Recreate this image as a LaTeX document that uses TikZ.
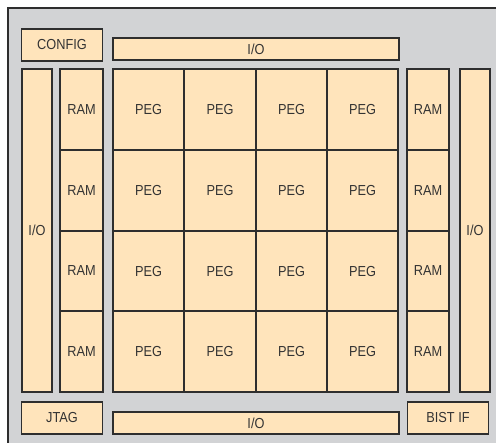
\documentclass[tikz,border=0pt]{standalone}
\usepackage{fontspec}
\setmainfont{Liberation Sans}[FakeStretch=0.88]
\definecolor{peach}{HTML}{FFE4BB}
\definecolor{chipgrey}{HTML}{D2D3D5}
\definecolor{edge}{HTML}{2E2E2E}
\definecolor{txt}{HTML}{333333}
\begin{document}
\begin{tikzpicture}[x=1pt,y=-1pt,
  blk/.style={draw=edge, fill=peach, line width=1.8pt, inner sep=0pt, text=txt,
    font=\fontsize{14.5}{16}\selectfont},
  cellblk/.style={blk, fill=none},
  pegcell/.style={cellblk, text depth=-4pt},
  ramcell/.style={cellblk}]
\useasboundingbox (0,0) rectangle (496,443);
\clip (0,0) rectangle (496,443);
\fill[white] (0,0) rectangle (496,443);
\draw[draw=edge, fill=chipgrey, line width=2.2pt] (8,8) rectangle (520,470);
% peach backgrounds of the grid blocks
\fill[peach] (60,69) rectangle (103,392);
\fill[peach] (113,69) rectangle (398,392);
\fill[peach] (407,69) rectangle (449,392);
% top row
\node[blk, minimum width=81pt, minimum height=32pt] (config) at (62,45) {CONFIG};
\node[blk, minimum width=286pt, minimum height=22pt] (iotop) at (256,49) {I/O};
% side I/O
\node[blk, minimum width=30pt, minimum height=323pt] (ioleft) at (37,230.5) {I/O};
\node[blk, minimum width=30pt, minimum height=323pt] (ioright) at (475,230.5) {I/O};
% RAM columns and PEG grid
\foreach \r/\ya/\yb in {1/69/150,2/150/231,3/231/311,4/311/392}{
  \node[ramcell, minimum width=43pt, minimum height={(\yb-\ya)*1pt}]
    (raml\r) at (81.5,{(\ya+\yb)/2}) {RAM};
  \node[ramcell, minimum width=42pt, minimum height={(\yb-\ya)*1pt}]
    (ramr\r) at (428,{(\ya+\yb)/2}) {RAM};
  \foreach \c/\xa/\xb in {1/113/184,2/184/256,3/256/327,4/327/398}{
    \node[pegcell, minimum width={(\xb-\xa)*1pt}, minimum height={(\yb-\ya)*1pt}]
      (peg\r\c) at ({(\xa+\xb)/2},{(\ya+\yb)/2}) {PEG};
  }
}
% bottom row
\node[blk, minimum width=81pt, minimum height=32pt] (jtag) at (62,418) {JTAG};
\node[blk, minimum width=286pt, minimum height=22pt] (iobot) at (256,423) {I/O};
\node[blk, minimum width=81pt, minimum height=32pt] (bist) at (448,418) {BIST IF};
\end{tikzpicture}
\end{document}
